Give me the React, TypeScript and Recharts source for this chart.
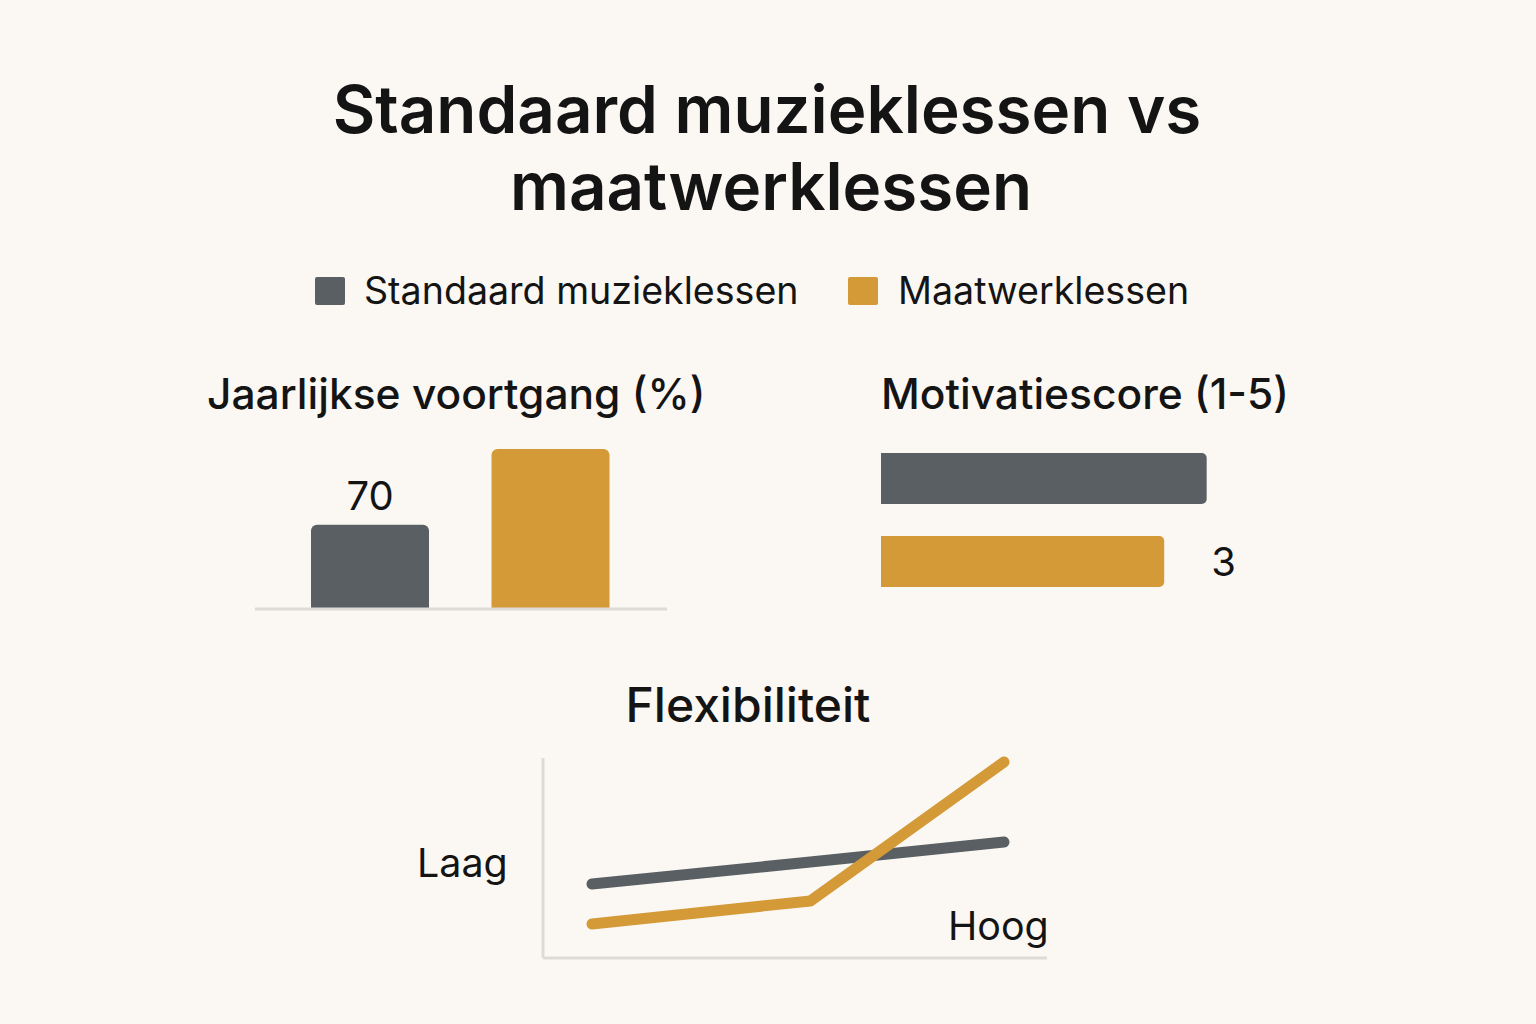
import { BarChart, Bar, LineChart, Line, XAxis, YAxis, Cell, LabelList } from 'recharts'

// series / categories
const seriesNames = ['Standaard muzieklessen', 'Maatwerklessen']
const seriesColors = ['#5A5F64', '#D49A38']

// Jaarlijkse voortgang (%)
const progressValues = [70, 88]
const progressLabels = ['70', '']

// Motivatiescore (1-5)
const motivationValues = [3.45, 3]
const motivationLabels = ['', '3']

// Flexibiliteit
const flexSteps = [0, 53, 100]
const flexStandard = [3.7, 4.8, 5.8]
const flexMaatwerk = [1.7, 2.85, 9.8]

const progressData = seriesNames.map((name, i) => ({
  name,
  value: progressValues[i],
  label: progressLabels[i],
}))

const motivationData = seriesNames.map((name, i) => ({
  name,
  value: motivationValues[i],
  label: motivationLabels[i],
}))

const flexData = flexSteps.map((step, i) => ({
  step,
  standaard: flexStandard[i],
  maatwerk: flexMaatwerk[i],
}))

const FONT = 'Inter, "Noto Sans", sans-serif'
const INK = '#141414'
const AXIS = '#DCDBD8'

export default function App() {
  return (
    <div
      style={{
        position: 'absolute',
        left: 0,
        top: 0,
        width: 1536,
        height: 1024,
        background: '#FBF8F3',
        fontFamily: FONT,
        overflow: 'hidden',
      }}
    >
      {/* left: vertical bars */}
      <div style={{ position: 'absolute', left: 255, top: 400 }}>
        <BarChart width={412} height={220} data={progressData} margin={{ top: 49, right: 0, bottom: 10, left: 0 }}>
          <XAxis
            dataKey="name"
            tick={false}
            tickLine={false}
            height={1}
            axisLine={{ stroke: AXIS, strokeWidth: 3 }}
            padding={{ left: 25, right: 26 }}
          />
          <YAxis hide domain={[50, 88]} />
          <Bar dataKey="value" barSize={118} radius={[6, 6, 0, 0]} isAnimationActive={false}>
            {progressData.map((d, i) => (
              <Cell key={d.name} fill={seriesColors[i]} />
            ))}
            <LabelList dataKey="label" position="top" offset={15} fill={INK} fontSize={40} fontFamily={FONT} />
          </Bar>
        </BarChart>
      </div>

      {/* right: horizontal bars */}
      <div style={{ position: 'absolute', left: 881, top: 437 }}>
        <BarChart
          width={472}
          height={166}
          data={motivationData}
          layout="vertical"
          margin={{ top: 0, right: 0, bottom: 0, left: 0 }}
        >
          <XAxis type="number" hide domain={[0, 5]} />
          <YAxis type="category" dataKey="name" hide />
          <Bar dataKey="value" barSize={51} radius={[0, 5, 5, 0]} isAnimationActive={false}>
            {motivationData.map((d, i) => (
              <Cell key={d.name} fill={seriesColors[i]} />
            ))}
            <LabelList dataKey="label" position="right" offset={47} fill={INK} fontSize={40} fontFamily={FONT} />
          </Bar>
        </BarChart>
      </div>

      {/* bottom: lines */}
      <div style={{ position: 'absolute', left: 541, top: 748 }}>
        <LineChart width={506} height={215} data={flexData} margin={{ top: 10, right: 0, bottom: 3, left: 0 }}>
          <XAxis
            dataKey="step"
            type="number"
            domain={[0, 100]}
            tick={false}
            tickLine={false}
            height={2}
            axisLine={{ stroke: AXIS, strokeWidth: 3 }}
            padding={{ left: 49, right: 43 }}
          />
          <YAxis
            type="number"
            domain={[0, 10]}
            tick={false}
            tickLine={false}
            width={2}
            axisLine={{ stroke: AXIS, strokeWidth: 3 }}
          />
          <Line
            type="linear"
            dataKey="standaard"
            stroke={seriesColors[0]}
            strokeWidth={11}
            strokeLinecap="round"
            strokeLinejoin="round"
            dot={false}
            isAnimationActive={false}
          />
          <Line
            type="linear"
            dataKey="maatwerk"
            stroke={seriesColors[1]}
            strokeWidth={11}
            strokeLinecap="round"
            strokeLinejoin="round"
            dot={false}
            isAnimationActive={false}
          />
        </LineChart>
      </div>

      {/* titles, legend, annotations */}
      <svg
        width={1536}
        height={1024}
        style={{ position: 'absolute', left: 0, top: 0, pointerEvents: 'none' }}
        fontFamily={FONT}
        fill={INK}
      >
        <text x={767} y={133} textAnchor="middle" fontSize={65.5} fontWeight={600}>
          Standaard muzieklessen vs
        </text>
        <text x={771} y={210} textAnchor="middle" fontSize={65.5} fontWeight={600}>
          maatwerklessen
        </text>

        <rect x={315} y={277} width={30} height={28} rx={2} fill={seriesColors[0]} />
        <text x={364} y={304} fontSize={37.6}>
          {seriesNames[0]}
        </text>
        <rect x={848} y={277} width={30} height={28} rx={2} fill={seriesColors[1]} />
        <text x={898} y={304} fontSize={37.6}>
          {seriesNames[1]}
        </text>

        <text x={207} y={409} fontSize={42.5} fontWeight={500}>
          Jaarlijkse voortgang (%)
        </text>
        <text x={881} y={409} fontSize={42.5} fontWeight={500}>
          Motivatiescore (1-5)
        </text>
        <text x={748} y={722} textAnchor="middle" fontSize={48} fontWeight={500}>
          Flexibiliteit
        </text>

        <text x={417} y={877} fontSize={39.4}>
          Laag
        </text>
        <text x={948} y={940} fontSize={39.4}>
          Hoog
        </text>
      </svg>
    </div>
  )
}
